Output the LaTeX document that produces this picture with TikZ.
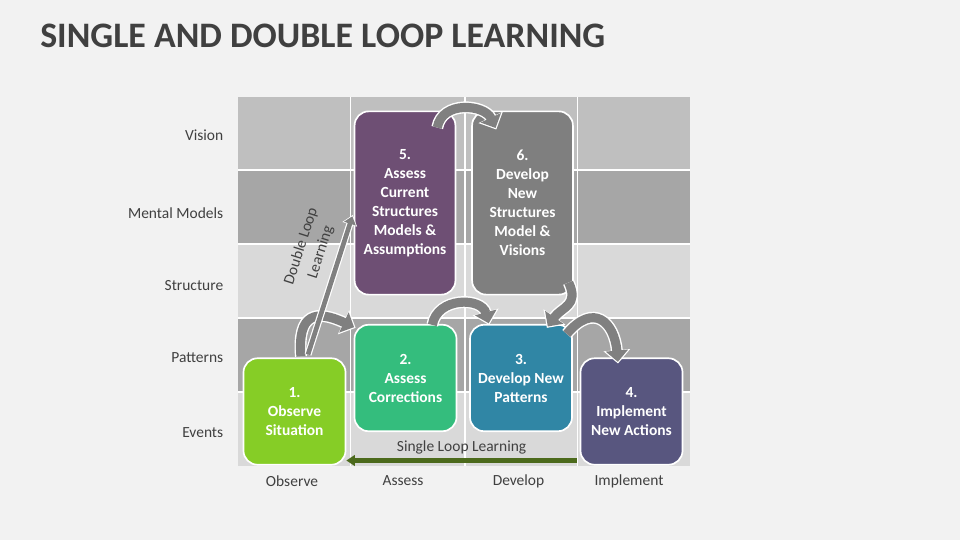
\documentclass[tikz,border=0pt]{standalone}
\usepackage{fontspec}
\setmainfont{Carlito}
\usetikzlibrary{arrows.meta}

\definecolor{bggray}{HTML}{F2F2F2}
\definecolor{textgray}{HTML}{404040}
\definecolor{rowlight}{HTML}{D9D9D9}
\definecolor{rowmid}{HTML}{BFBFBF}
\definecolor{rowdark}{HTML}{A6A6A6}
\definecolor{observegreen}{HTML}{86CD26}
\definecolor{assessgreen}{HTML}{34BD7D}
\definecolor{developblue}{HTML}{3086A5}
\definecolor{implementblue}{HTML}{58567F}
\definecolor{structpurple}{HTML}{6E4F74}
\definecolor{visiongray}{HTML}{7F7F7F}
\definecolor{loopgray}{HTML}{808080}
\definecolor{singlegreen}{HTML}{4C6A1C}

\begin{document}
\begin{tikzpicture}[x=0.025cm, y=0.025cm,
        stepbox/.style={rectangle, rounded corners=10pt, draw=white, line width=1.2pt, text=white, align=center, inner sep=0pt, font=\fontsize{11}{13.5}\selectfont\bfseries},
        smallbox/.style={stepbox, minimum width=2.55cm, minimum height=2.66cm},
        tallbox/.style={stepbox, minimum width=2.52cm, minimum height=4.58cm},
        rowlabel/.style={anchor=east, inner sep=0pt, text=textgray, font=\fontsize{11}{13}\selectfont},
        collabel/.style={text=textgray, font=\fontsize{11}{13}\selectfont},
        loop/.style={white, line width=8.5pt, -{Triangle[length=9.5pt, width=18.5pt]},
            postaction={draw=loopgray, line width=6.5pt, shorten >=1.2pt, -{Triangle[length=8pt, width=15.5pt]}}},
        dblloop/.style={white, line width=5pt, -{Triangle[length=7pt, width=10.5pt]},
            postaction={draw=loopgray, line width=3.3pt, shorten >=1pt, -{Triangle[length=5.5pt, width=8.5pt]}}},
        singleloop/.style={singlegreen, line width=4pt, -{Triangle[length=6pt, width=7.5pt]}}
    ]

    \useasboundingbox (0,0) rectangle (960,-540);
    \fill[bggray] (0,0) rectangle (960,-540);

    % Title
    \node[anchor=base west, inner sep=0pt, text=textgray, font=\fontsize{25.5}{30}\selectfont\bfseries] (title) at (40,-47) {SINGLE AND DOUBLE LOOP LEARNING};

    % Grid rows
    \fill[rowmid] (238,-97) rectangle (690,-170);
    \fill[rowdark] (238,-170) rectangle (690,-244);
    \fill[rowlight] (238,-244) rectangle (690,-318);
    \fill[rowdark] (238,-318) rectangle (690,-392);
    \fill[rowlight] (238,-392) rectangle (690,-466);
    \draw[white, line width=1pt] (350.5,-97) -- (350.5,-466) (465,-97) -- (465,-466) (577.5,-97) -- (577.5,-466);
    \draw[white, line width=1pt] (238,-170) -- (690,-170) (238,-244) -- (690,-244) (238,-318) -- (690,-318) (238,-392) -- (690,-392);

    % Row labels
    \node[rowlabel] (vision) at (223.5,-135) {Vision};
    \node[rowlabel] (models) at (223.5,-213) {Mental Models};
    \node[rowlabel] (structure) at (223.5,-286) {Structure};
    \node[rowlabel] (patterns) at (223.5,-358) {Patterns};
    \node[rowlabel] (events) at (223.5,-433) {Events};

    % Column labels
    \node[collabel] (observe) at (292,-481) {Observe};
    \node[collabel] (assess) at (403,-481) {Assess};
    \node[collabel] (develop) at (518.5,-481) {Develop};
    \node[collabel] (implement) at (629,-481) {Implement};

    % Single loop
    \node[smallbox, fill=observegreen] (s1) at (294.5,-411.5) {1.\\Observe\\Situation};
    \node[smallbox, fill=assessgreen] (s2) at (405.5,-378) {2.\\Assess\\Corrections};
    \node[smallbox, fill=developblue] (s3) at (521,-378) {3.\\Develop New\\Patterns};
    \node[smallbox, fill=implementblue] (s4) at (631.5,-411.5) {4.\\Implement\\New Actions};

    % Double loop
    \node[tallbox, fill=structpurple] (s5) at (405,-203) {5.\\Assess\\Current\\Structures\\Models \&\\Assumptions};
    \node[tallbox, fill=visiongray] (s6) at (522.5,-203) {6.\\Develop\\New\\Structures\\Model \&\\Visions};

    % Curved arrows between steps
    \draw[loop] ([xshift=4.6pt, yshift=0.7pt]s1.north) to[out=95, in=155, looseness=1.8] ([xshift=1.4pt, yshift=-2.8pt]s2.north west);
    \draw[loop] ([xshift=-17.8pt, yshift=-0.7pt]s2.north east) to[out=80, in=105, looseness=1.3] ([xshift=14.2pt, yshift=-0.7pt]s3.north west);
    \draw[loop] ([xshift=-13.5pt, yshift=-12.1pt]s5.north east) to[out=80, in=115, looseness=1.2] ([xshift=17.8pt, yshift=-13.5pt]s6.north west);
    \draw[loop] ([xshift=-3.6pt, yshift=9.2pt]s6.south east) to[out=-65, in=55, looseness=1.3] ([xshift=-18.5pt, yshift=-2.8pt]s3.north east);
    \draw[loop] ([xshift=-4.3pt, yshift=-7.1pt]s3.north east) to[out=50, in=95, looseness=1.8] ([xshift=-9.6pt, yshift=-4.3pt]s4.north);

    % Loop learning arrows
    \draw[dblloop] ([xshift=9.6pt, yshift=2.1pt]s1.north) -- node[pos=0.69, sloped, above=3pt, align=center, text=textgray, font=\fontsize{11}{14.5}\selectfont] {Double Loop\\Learning} ([xshift=-0.7pt, yshift=-8.5pt]s5.west);
    \draw[singleloop] ([xshift=-2pt, yshift=3.6pt]s4.south west) -- node[above=-0.5pt, text=textgray, font=\fontsize{11}{13}\selectfont] {Single Loop Learning} ([yshift=3.6pt]s1.south east);

\end{tikzpicture}
\end{document}
